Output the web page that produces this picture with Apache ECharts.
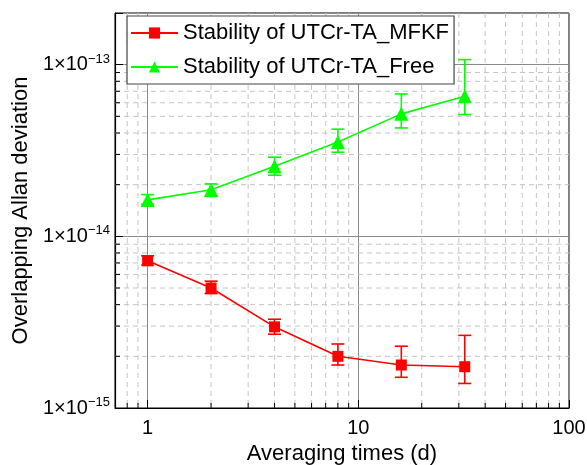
<!DOCTYPE html>
<html>
<head>
<meta charset="utf-8">
<script src="https://cdn.jsdelivr.net/npm/echarts@6/dist/echarts.min.js"></script>
<style>
html, body { margin: 0; padding: 0; background: #fff; }
#main { width: 587px; height: 465px; }
</style>
</head>
<body>
<div id="main"></div>
<script>
// averaging times (d)
var tau = [1, 2, 4, 8, 16, 32];
// Stability of UTCr-TA_MFKF
var mfkf = [7.2e-15, 5.0e-15, 2.97e-15, 2.0e-15, 1.78e-15, 1.74e-15];
var mfkfLo = [6.8e-15, 4.64e-15, 2.69e-15, 1.78e-15, 1.51e-15, 1.39e-15];
var mfkfHi = [7.7e-15, 5.48e-15, 3.29e-15, 2.36e-15, 2.29e-15, 2.65e-15];
// Stability of UTCr-TA_Free
var free = [1.63e-14, 1.87e-14, 2.56e-14, 3.54e-14, 5.17e-14, 6.54e-14];
var freeLo = [1.54e-14, 1.71e-14, 2.27e-14, 3.09e-14, 4.28e-14, 5.12e-14];
var freeHi = [1.75e-14, 2.02e-14, 2.89e-14, 4.21e-14, 6.75e-14, 1.07e-13];
// minor grid positions
var xMinor = [0.8, 0.9, 2, 3, 4, 5, 6, 7, 8, 9, 20, 30, 40, 50, 60, 70, 80, 90];
var yMinor = [2e-15, 3e-15, 4e-15, 5e-15, 6e-15, 7e-15, 8e-15, 9e-15,
              2e-14, 3e-14, 4e-14, 5e-14, 6e-14, 7e-14, 8e-14, 9e-14];

var FONT = '"Liberation Sans", Arial, sans-serif';

function pairs(xs, ys) {
    return xs.map(function (x, i) { return [x, ys[i]]; });
}
function triples(xs, lo, hi) {
    return xs.map(function (x, i) { return [x, lo[i], hi[i]]; });
}
function decade(v) {
    var e = Math.log10(v);
    var r = Math.round(e);
    return Math.abs(e - r) < 1e-6 ? r : null;
}

function errorBar(color) {
    return function (params, api) {
        var x = api.value(0);
        var lo = api.coord([x, api.value(1)]);
        var hi = api.coord([x, api.value(2)]);
        var w = 6.5;
        var st = { stroke: color, lineWidth: 1.6 };
        return {
            type: 'group',
            children: [
                { type: 'line', shape: { x1: lo[0], y1: lo[1], x2: hi[0], y2: hi[1] }, style: st },
                { type: 'line', shape: { x1: lo[0] - w, y1: lo[1], x2: lo[0] + w, y2: lo[1] }, style: st },
                { type: 'line', shape: { x1: hi[0] - w, y1: hi[1], x2: hi[0] + w, y2: hi[1] }, style: st }
            ]
        };
    };
}

// dashed minor grid + small inside tick
function xMinorItem(params, api) {
    var cs = params.coordSys;
    var p = api.coord([api.value(0), api.value(1)]);
    var b = cs.y + cs.height;
    return {
        type: 'group',
        children: [
            { type: 'line', shape: { x1: p[0], y1: cs.y, x2: p[0], y2: b },
              style: { stroke: '#c4c4c4', lineWidth: 1, lineDash: [5, 4] } },
            { type: 'line', shape: { x1: p[0], y1: b, x2: p[0], y2: b - 5 },
              style: { stroke: '#000', lineWidth: 1 } }
        ]
    };
}
function yMinorItem(params, api) {
    var cs = params.coordSys;
    var p = api.coord([api.value(0), api.value(1)]);
    return {
        type: 'group',
        children: [
            { type: 'line', shape: { x1: cs.x, y1: p[1], x2: cs.x + cs.width, y2: p[1] },
              style: { stroke: '#c4c4c4', lineWidth: 1, lineDash: [5, 4] } },
            { type: 'line', shape: { x1: cs.x, y1: p[1], x2: cs.x + 5, y2: p[1] },
              style: { stroke: '#000', lineWidth: 1 } }
        ]
    };
}

var chart = echarts.init(document.getElementById('main'));
var option = {
    animation: false,
    textStyle: { fontFamily: FONT },
    grid: {
        left: 115, right: 18, top: 13, bottom: 57,
        outerBoundsMode: 'none',
        containLabel: false,
        show: true, borderColor: '#000', borderWidth: 1
    },
    legend: {
        data: ['Stability of UTCr-TA_MFKF', 'Stability of UTCr-TA_Free'],
        orient: 'vertical',
        left: 127, top: 16,
        padding: [6, 5, 6, 3],
        itemGap: 12,
        itemWidth: 47,
        itemHeight: 14,
        backgroundColor: '#fff',
        borderColor: '#444',
        borderWidth: 1.2,
        textStyle: { fontSize: 22, color: '#000', fontFamily: FONT }
    },
    xAxis: {
        type: 'log',
        logBase: 10,
        min: 0.7,
        max: 100,
        name: 'Averaging times (d)',
        nameLocation: 'middle',
        nameGap: 34,
        nameTextStyle: { fontSize: 22, color: '#000', fontFamily: FONT },
        axisLine: { lineStyle: { color: '#000', width: 1.2 } },
        axisTick: { inside: true, length: 8, lineStyle: { color: '#000' } },
        axisLabel: {
            fontSize: 20, color: '#000', margin: 10, fontFamily: FONT,
            formatter: function (v) {
                var r = decade(v);
                return r === null ? '' : String(Math.round(Math.pow(10, r)));
            }
        },
        splitLine: { show: true, lineStyle: { color: '#8a8a8a', width: 1 } }
    },
    yAxis: {
        type: 'log',
        logBase: 10,
        min: 1e-15,
        max: 2e-13,
        name: 'Overlapping Allan deviation',
        nameLocation: 'middle',
        nameGap: 75,
        nameTextStyle: { fontSize: 22, color: '#000', fontFamily: FONT },
        axisLine: { lineStyle: { color: '#000', width: 1.2 } },
        axisTick: { inside: true, length: 8, lineStyle: { color: '#000' } },
        axisLabel: {
            fontSize: 20, color: '#000', margin: 5, fontFamily: FONT,
            formatter: function (v) {
                var r = decade(v);
                return r === null ? '' : '1×10{s|−' + (-r) + '}';
            },
            rich: {
                s: { fontSize: 13, color: '#000', fontFamily: FONT, padding: [0, 0, 11, 0] }
            }
        },
        splitLine: { show: true, lineStyle: { color: '#8a8a8a', width: 1 } }
    },
    series: [
        {
            name: 'xminor', type: 'custom', silent: true, z: 1,
            renderItem: xMinorItem,
            data: xMinor.map(function (v) { return [v, 1e-14]; })
        },
        {
            name: 'yminor', type: 'custom', silent: true, z: 1,
            renderItem: yMinorItem,
            data: yMinor.map(function (v) { return [1, v]; })
        },
        {
            name: 'Stability of UTCr-TA_MFKF',
            type: 'line',
            data: pairs(tau, mfkf),
            symbol: 'rect',
            symbolSize: 11,
            color: '#ff0000',
            lineStyle: { color: '#ff0000', width: 1.6 },
            itemStyle: { color: '#ff0000' },
            z: 4
        },
        {
            name: 'Stability of UTCr-TA_Free',
            type: 'line',
            data: pairs(tau, free),
            symbol: 'triangle',
            symbolSize: 14,
            color: '#00ff00',
            lineStyle: { color: '#00ff00', width: 1.6 },
            itemStyle: { color: '#00ff00' },
            z: 4
        },
        {
            name: 'mfkfErr', type: 'custom', silent: true, z: 3,
            renderItem: errorBar('#ff0000'),
            encode: { x: 0, y: [1, 2] },
            data: triples(tau, mfkfLo, mfkfHi)
        },
        {
            name: 'freeErr', type: 'custom', silent: true, z: 3,
            renderItem: errorBar('#00ff00'),
            encode: { x: 0, y: [1, 2] },
            data: triples(tau, freeLo, freeHi)
        }
    ]
};
chart.setOption(option);
</script>
</body>
</html>
